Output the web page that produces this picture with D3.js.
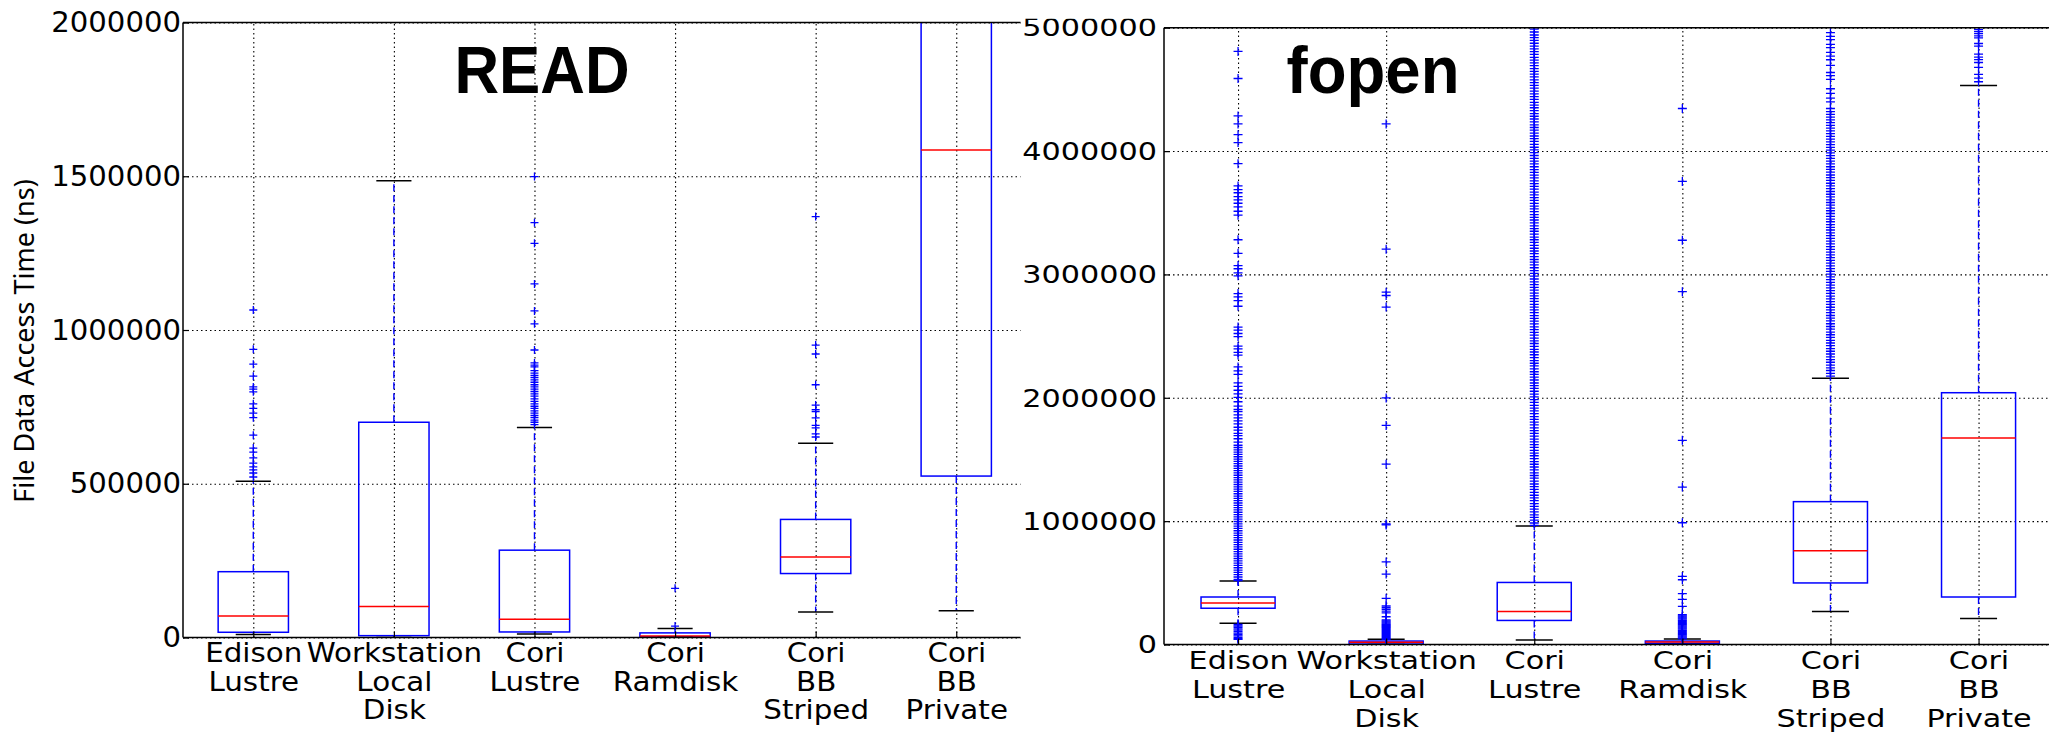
<!DOCTYPE html>
<html>
<head>
<meta charset="utf-8">
<script src="https://cdn.jsdelivr.net/npm/d3@7"></script>
<style>
  html, body { margin: 0; padding: 0; background: #fff; }
  svg { display: block; }
</style>
</head>
<body>
<svg id="chart" width="2049" height="733"></svg>
<script>
// Storage systems on the x axis (label lines split by "\n")
const categories = ["Edison\nLustre", "Workstation\nLocal\nDisk", "Cori\nLustre", "Cori\nRamdisk", "Cori\nBB\nStriped", "Cori\nBB\nPrivate"];

// READ panel, box statistics in thousands of ns
const readLo  = [10, 0, 11, 0, 83, 87];
const readQ1  = [17, 6, 18, 2, 208, 525];
const readMed = [70, 101, 59, 5, 262, 1585];
const readQ3  = [214, 700, 284, 15, 384, 2600];
const readHi  = [508, 1485, 683, 29, 632, 4000];
const readFliers = [
  [1065, 937, 889, 850, 815, 808, 799, 760, 745, 730, 715, 658, 616, 603, 584, 567, 555, 545, 535, 522],
  [],
  [1499, 1349, 1282, 1150, 1062, 1020, 935, 893, 886, 880, 868, 860, 852, 845, 838, 830, 822, 815, 808, 800,
   792, 785, 776, 768, 760, 752, 745, 737, 730, 722, 715, 707, 700, 692],
  [160, 37],
  [1369, 951, 922, 822, 756, 741, 735, 714, 690, 682, 662, 652],
  []
];
const readTicks = [0, 500000, 1000000, 1500000, 2000000];

// fopen panel, box statistics in thousands of ns
const fopenLo  = [173, 0, 36, 0, 268, 211];
const fopenQ1  = [294, 4, 195, 10, 499, 385];
const fopenMed = [336, 18, 268, 20, 760, 1674];
const fopenQ3  = [385, 28, 503, 28, 1158, 2041];
const fopenHi  = [514, 42, 961, 44, 2159, 4531];
const fopenFliers = [
  [4808, 4588, 4285, 4220, 4133, 4069, 3898, 3717, 3688, 3662, 3630, 3604, 3577, 3548, 3512, 3480, 3281, 3171,
   3072, 3046, 3012, 2989, 2845, 2818, 2787, 2742, 2573, 2548, 2521, 2496, 2418, 2396, 2368, 2346, 2250, 2218,
   2190, 2121, 2093, 2061, 2032, 2004, 1968, 1933, 1905, 1888, 1862, 1837, 1812, 1788, 1761, 1738, 1712, 1693,
   1668, 1641, 1615, 1597, 1578, 1560, 1541, 1522, 1503, 1484, 1466, 1447, 1428, 1409, 1391, 1372, 1353, 1334,
   1316, 1297, 1278, 1259, 1241, 1222, 1203, 1184, 1166, 1147, 1128, 1109, 1091, 1072, 1053, 1034, 1016, 997,
   978, 959, 941, 922, 903, 884, 866, 847, 828, 809, 791, 772, 753, 734, 716, 697, 678, 659, 641, 622, 603, 584,
   566, 547, 528, 518, 162, 150, 139, 127, 116, 104, 93, 81, 70, 58, 47, 42],
  [4220, 3205, 2856, 2829, 2735, 1999, 1776, 1462, 977, 969, 669, 571, 374, 312, 298, 284, 270, 256, 225, 199,
   192, 184, 176, 168, 160, 152, 144, 136, 128, 120, 112, 104, 96, 88, 80, 72, 64, 56, 48, 42],
  [965, 985, 1008, 1030, 1051, 1075, 1098, 1120, 1142, 1166, 1188, 1210, 1233, 1257, 1279, 1301, 1325, 1348,
   1370, 1392, 1416, 1439, 1461, 1483, 1507, 1530, 1552, 1574, 1598, 1621, 1643, 1665, 1689, 1712, 1734, 1756,
   1780, 1803, 1825, 1847, 1871, 1894, 1916, 1938, 1962, 1985, 2007, 2029, 2053, 2076, 2098, 2120, 2144, 2167,
   2189, 2211, 2235, 2258, 2280, 2302, 2326, 2349, 2371, 2393, 2417, 2440, 2462, 2484, 2508, 2531, 2553, 2575,
   2599, 2622, 2644, 2666, 2690, 2713, 2735, 2757, 2781, 2804, 2826, 2848, 2872, 2895, 2917, 2939, 2963, 2986,
   3008, 3030, 3054, 3077, 3099, 3121, 3145, 3168, 3190, 3212, 3236, 3259, 3281, 3303, 3327, 3350, 3372, 3394,
   3418, 3441, 3463, 3485, 3509, 3532, 3554, 3576, 3600, 3623, 3645, 3667, 3691, 3714, 3736, 3758, 3782, 3805,
   3827, 3849, 3873, 3896, 3918, 3940, 3964, 3987, 4009, 4031, 4055, 4078, 4100, 4122, 4146, 4169, 4191, 4213,
   4237, 4260, 4282, 4304, 4328, 4351, 4373, 4395, 4419, 4442, 4464, 4486, 4510, 4533, 4555, 4577, 4601, 4624,
   4646, 4668, 4692, 4715, 4737, 4759, 4783, 4806, 4828, 4850, 4874, 4897, 4919, 4941, 4965, 4988],
  [4345, 3754, 3277, 2860, 1655, 1276, 987, 552, 525, 412, 366, 309, 241, 232, 223, 214, 205, 196, 187, 178,
   169, 160, 151, 142, 133, 124, 115, 106, 97, 88, 79, 70, 61, 52, 46],
  [4960, 4929, 4903, 4865, 4838, 4800, 4770, 4740, 4694, 4637, 4611, 4581, 4505, 4467, 4429, 4399, 4345,
   4320, 4298, 4275, 4253, 4231, 4208, 4186, 4164, 4141, 4119, 4097, 4074, 4052, 4030, 4007, 3985, 3963, 3940,
   3918, 3896, 3873, 3851, 3829, 3806, 3784, 3762, 3739, 3717, 3695, 3672, 3650, 3628, 3605, 3583, 3561, 3538,
   3516, 3494, 3471, 3449, 3427, 3404, 3382, 3360, 3337, 3315, 3293, 3270, 3248, 3226, 3203, 3181, 3159, 3136,
   3114, 3092, 3069, 3047, 3025, 3002, 2980, 2958, 2935, 2913, 2891, 2868, 2846, 2824, 2801, 2779, 2757, 2734,
   2712, 2690, 2667, 2645, 2623, 2600, 2578, 2556, 2533, 2511, 2489, 2466, 2444, 2422, 2399, 2377, 2355, 2332,
   2310, 2288, 2265, 2243, 2221, 2198, 2176],
  [4985, 4968, 4952, 4934, 4918, 4872, 4850, 4785, 4762, 4741, 4718, 4679, 4622, 4591, 4562]
];
const fopenTicks = [0, 1000000, 2000000, 3000000, 4000000, 5000000];

const K = 1000; // data is stored in thousands of ns

const svg = d3.select("#chart");
const defs = svg.append("defs");

// Panel layout (pixels) and text styling
const panels = [
  {
    id: "read", title: "READ", titleX: 542, titleLen: 175,
    lo: readLo, q1: readQ1, med: readMed, q3: readQ3, hi: readHi, fliers: readFliers, ticks: readTicks,
    yMax: 2000000, xMax: 6.457,
    left: 183, right: 1020.5, top: 22.5, bottom: 637.5,
    tickFont: 27.5, tickScale: 1.06, tickPad: 2,
    catFont: 26, catScale: 1.13, catLine: 28.5,
    marker: 4, clipX: 0, clipW: 1021, clipTop: 0, ylabel: "File Data Access Time (ns)"
  },
  {
    id: "fopen", title: "fopen", titleX: 1373, titleLen: 173,
    lo: fopenLo, q1: fopenQ1, med: fopenMed, q3: fopenQ3, hi: fopenHi, fliers: fopenFliers, ticks: fopenTicks,
    yMax: 5000000, xMax: 6.5,
    left: 1164, right: 2052.6, top: 27.7, bottom: 644.5,
    tickFont: 25, tickScale: 1.21, tickPad: 7,
    catFont: 25.6, catScale: 1.18, catLine: 29,
    marker: 4.5, clipX: 1021, clipW: 1100, clipTop: 18.7, ylabel: null
  }
];

function drawPanel(p)
{
  const x = d3.scaleLinear().domain([0.5, p.xMax]).range([p.left, p.right]);
  const y = d3.scaleLinear().domain([0, p.yMax]).range([p.bottom, p.top]);
  const pos = categories.map((c, i) => i + 1);
  const step = x(2) - x(1);
  const boxW = step * 0.5, capW = step * 0.25;

  // Outer clip (the right figure is cut at its top edge)
  defs.append("clipPath").attr("id", "outer-" + p.id)
    .append("rect")
    .attr("x", p.clipX).attr("y", p.clipTop)
    .attr("width", p.clipW).attr("height", 800);

  // Plot area clip
  defs.append("clipPath").attr("id", "plot-" + p.id)
    .append("rect")
    .attr("x", p.left).attr("y", p.top)
    .attr("width", p.right - p.left).attr("height", p.bottom - p.top);

  const root = svg.append("g").attr("clip-path", "url(#outer-" + p.id + ")");

  // Horizontal grid
  const gGridY = root.append("g")
    .attr("transform", "translate(" + p.left + ",0)")
    .call(d3.axisLeft(y).tickValues(p.ticks).tickSize(-(p.right - p.left)).tickFormat(""));
  // Vertical grid
  const gGridX = root.append("g")
    .attr("transform", "translate(0," + p.bottom + ")")
    .call(d3.axisBottom(x).tickValues(pos).tickSize(-(p.bottom - p.top)).tickFormat(""));
  [gGridY, gGridX].forEach(g => {
    g.select(".domain").remove();
    g.selectAll("line")
      .attr("stroke", "#000")
      .attr("stroke-width", 1.1)
      .attr("stroke-dasharray", "1.5,3");
  });

  const plot = root.append("g").attr("clip-path", "url(#plot-" + p.id + ")");

  // Whiskers
  pos.forEach((c, i) => {
    [[p.q3[i], p.hi[i]], [p.q1[i], p.lo[i]]].forEach(seg => {
      plot.append("line")
        .attr("x1", x(c)).attr("x2", x(c))
        .attr("y1", y(seg[0] * K)).attr("y2", y(seg[1] * K))
        .attr("stroke", "#0000ff")
        .attr("stroke-width", 1.4)
        .attr("stroke-dasharray", "7,4");
    });
  });

  // Boxes
  plot.selectAll("rect.box")
    .data(pos)
    .enter()
    .append("rect")
    .attr("class", "box")
    .attr("x", c => x(c) - boxW / 2)
    .attr("width", boxW)
    .attr("y", (c, i) => y(p.q3[i] * K))
    .attr("height", (c, i) => y(p.q1[i] * K) - y(p.q3[i] * K))
    .attr("fill", "none")
    .attr("stroke", "#0000ff")
    .attr("stroke-width", 1.5);

  // Medians
  plot.selectAll("line.median")
    .data(pos)
    .enter()
    .append("line")
    .attr("class", "median")
    .attr("x1", c => x(c) - boxW / 2)
    .attr("x2", c => x(c) + boxW / 2)
    .attr("y1", (c, i) => y(p.med[i] * K))
    .attr("y2", (c, i) => y(p.med[i] * K))
    .attr("stroke", "#ff0000")
    .attr("stroke-width", 1.5);

  // Caps
  pos.forEach((c, i) => {
    [p.lo[i], p.hi[i]].forEach(v => {
      plot.append("line")
        .attr("x1", x(c) - capW / 2).attr("x2", x(c) + capW / 2)
        .attr("y1", y(v * K)).attr("y2", y(v * K))
        .attr("stroke", "#000")
        .attr("stroke-width", 1.5);
    });
  });

  // Fliers drawn as "+"
  const m = p.marker;
  pos.forEach((c, i) => {
    plot.selectAll(null)
      .data(p.fliers[i])
      .enter()
      .append("path")
      .attr("transform", v => "translate(" + x(c) + "," + y(v * K) + ")")
      .attr("d", "M" + (-m) + ",0H" + m + "M0," + (-m) + "V" + m)
      .attr("stroke", "#0000ff")
      .attr("stroke-width", 1.3)
      .attr("fill", "none");
  });

  // Spines (left, top, bottom; the right side is cut off)
  [[p.left, p.top, p.left, p.bottom], [p.left, p.top, p.right, p.top], [p.left, p.bottom, p.right, p.bottom]]
    .forEach(s => {
      root.append("line")
        .attr("x1", s[0]).attr("y1", s[1]).attr("x2", s[2]).attr("y2", s[3])
        .attr("stroke", "#000")
        .attr("stroke-width", 1.5);
    });

  // Y tick labels
  const gY = root.append("g")
    .attr("transform", "translate(" + p.left + ",0)")
    .call(d3.axisLeft(y).tickValues(p.ticks).tickSize(6).tickFormat(d3.format("d")));
  gY.select(".domain").remove();
  gY.selectAll(".tick line").attr("x2", 6).attr("stroke", "#000").attr("stroke-width", 1.2);
  gY.selectAll(".tick text")
    .attr("x", -p.tickPad / p.tickScale)
    .attr("dy", "0.33em")
    .attr("transform", "scale(" + p.tickScale + ",1)")
    .style("font-family", "'DejaVu Sans', sans-serif")
    .style("font-size", p.tickFont + "px")
    .attr("fill", "#000");

  // X category labels
  const gX = root.append("g")
    .attr("transform", "translate(0," + p.bottom + ")")
    .call(d3.axisBottom(x).tickValues(pos).tickSize(6).tickFormat(""));
  gX.select(".domain").remove();
  gX.selectAll(".tick line").attr("y2", -6).attr("stroke", "#000").attr("stroke-width", 1.2);
  gX.selectAll(".tick text")
    .attr("y", 24.8)
    .attr("dy", null)
    .attr("transform", "scale(" + p.catScale + ",1)")
    .style("font-family", "'DejaVu Sans', sans-serif")
    .style("font-size", p.catFont + "px")
    .attr("fill", "#000")
    .each(function(d) {
      const t = d3.select(this);
      categories[d - 1].split("\n").forEach((line, j) => {
        t.append("tspan")
          .attr("x", 0)
          .attr("y", 24.8 + j * p.catLine)
          .text(line);
      });
    });

  // Panel title
  root.append("text")
    .attr("x", p.titleX)
    .attr("y", 93.3)
    .attr("text-anchor", "middle")
    .attr("textLength", p.titleLen)
    .attr("lengthAdjust", "spacingAndGlyphs")
    .style("font-family", "'Liberation Sans', Arial, sans-serif")
    .style("font-weight", "bold")
    .style("font-size", "67px")
    .text(p.title);

  // Y axis title
  if (p.ylabel) {
    svg.append("text")
      .attr("transform", "translate(34,341) rotate(-90)")
      .attr("text-anchor", "middle")
      .style("font-family", "'Noto Sans', 'Open Sans', sans-serif")
      .style("font-size", "27px")
      .text(p.ylabel);
  }
}

panels.forEach(drawPanel);
</script>
</body>
</html>
